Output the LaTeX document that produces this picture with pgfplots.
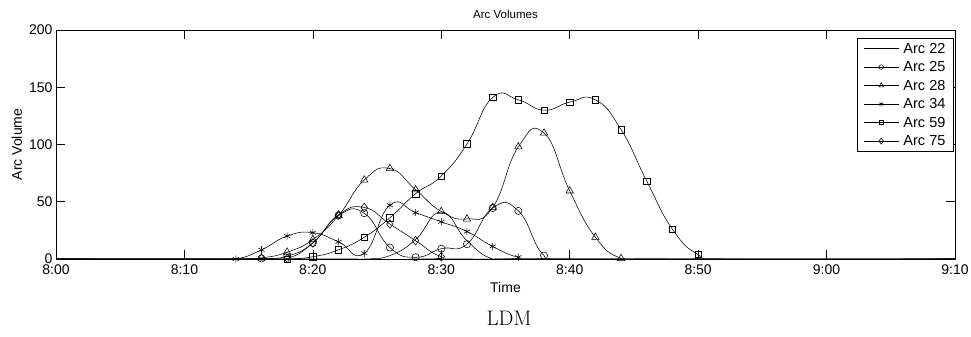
\documentclass[border=0pt]{standalone}
\usepackage{fontspec}
\usepackage{pgfplots}
\pgfplotsset{compat=1.18}
\newfontfamily\arial{Liberation Sans}
\begin{document}
\begin{tikzpicture}
\path[use as bounding box] (-56pt,-78pt) rectangle (915pt,259pt);
\begin{axis}[
  at={(0pt,0pt)}, anchor=south west,
  scale only axis, width=899pt, height=229pt,
  xmin=0, xmax=70, ymin=0, ymax=200,
  xtick={0,10,20,30,40,50,60,70},
  xticklabels={8:00,8:10,8:20,8:30,8:40,8:50,9:00,9:10},
  ytick={0,50,100,150,200},
  tick align=inside, tick pos=both,
  major tick length=9pt,
  every tick/.style={black, line width=0.6pt},
  axis line style={line width=0.6pt},
  clip mode=individual,
  font=\arial\fontsize{14}{16}\selectfont,
  ticklabel style={font=\arial\fontsize{14}{16}\selectfont},
  /pgf/number format/assume math mode=true,
  xticklabel style={yshift=-2.3pt},
  title={Arc Volumes}, xlabel={Time}, ylabel={Arc Volume},
  title style={at={(axis description cs:0.5,1.0437)}, anchor=center, font=\arial\fontsize{11.5}{13}\selectfont},
  xlabel style={at={(axis description cs:0.5,-0.1223)}, anchor=center},
  ylabel style={at={(axis description cs:-0.0434,0.5)}, anchor=center},
  every axis plot/.append style={black, line width=0.55pt, smooth, tension=0.85},
  legend style={at={(axis description cs:0.998,0.965)}, anchor=north east,
    draw=black, line width=0.6pt, inner xsep=6pt, inner ysep=3pt, row sep=4pt, column sep=3pt,
    nodes={inner sep=1.5pt, text height=10.5pt, text depth=1pt},
    font=\arial\fontsize{14.5}{16}\selectfont},
  legend cell align=left,
  legend image code/.code={\draw[mark repeat=2,mark phase=2,#1] plot coordinates {(0pt,0pt) (17.5pt,0pt) (35pt,0pt)};},
]
\addlegendimage{black, line width=0.55pt}
\addlegendimage{black, line width=0.55pt, mark=o, mark size=2.3pt}
\addlegendimage{black, line width=0.55pt, mark=triangle, mark size=2.8pt}
\addlegendimage{black, line width=0.55pt, mark=asterisk, mark size=2.5pt}
\addlegendimage{black, line width=0.55pt, mark=square, mark size=2.2pt}
\addlegendimage{black, line width=0.55pt, mark=diamond, mark size=3pt}
\legend{Arc 22,Arc 25,Arc 28,Arc 34,Arc 59,Arc 75}

% Arc 22
\addplot[forget plot] coordinates {(0,0) (22,0) (24,0) (26,3) (28,17) (30,41) (32,16) (34,0) (36,0) (70,0)};
% Arc 25
\addplot[forget plot, mark=o, mark size=3.6pt, mark indices={3,4,5,6,7,8,9,10,11,12,13,14}] coordinates {(0,0) (14,0) (16,0.5) (18,2.5) (20,14) (22,38) (24,40) (26,10) (28,1.5) (30,9) (32,13) (34,44.5) (36,42) (38,3) (40,0) (70,0)};
% Arc 28
\addplot[forget plot, mark=triangle, mark size=4.3pt, mark indices={3,4,5,6,7,8,9,10,11,12,13,14,15,16,17}] coordinates {(0,0) (14,0) (16,1) (18,6) (20,17) (22,38) (24,69) (26,79) (28,60.5) (30,41.5) (32,35) (34,45) (36,98) (38,110) (40,59.5) (42,19) (44,0.5) (46,0) (70,0)};
% Arc 34
\addplot[forget plot, mark=asterisk, mark size=3.6pt, mark indices={3,4,5,6,7,8,9,10,11,12,13,14}] coordinates {(0,0) (12,0) (14,0) (16,8) (18,20) (20,23) (22,15) (24,5) (26,47) (28,40.5) (30,32.5) (32,24) (34,11) (36,1.5) (38,0) (70,0)};
% Arc 59
\addplot[forget plot, mark=square, mark size=3.2pt, mark indices={3,4,5,6,7,8,9,10,11,12,13,14,15,16,17,18,19}] coordinates {(0,0) (16,0) (18,0) (20,2) (22,8) (24,19) (26,36) (28,57) (30,72.5) (32,100.5) (34,141) (36,139) (38,130) (40,137) (42,139) (44,113) (46,68) (48,26) (50,4) (52,0) (70,0)};
% Arc 75
\addplot[forget plot, mark=diamond, mark size=4.3pt, mark indices={3,4,5,6,7,8,9}] coordinates {(0,0) (16,0) (18,0.5) (20,14) (22,38.5) (24,45) (26,30.5) (28,16) (30,2) (32,0) (70,0)};
\end{axis}
\node[font=\fontsize{21}{24}\selectfont] at (453pt,-59pt) {LDM};
\end{tikzpicture}
\end{document}
